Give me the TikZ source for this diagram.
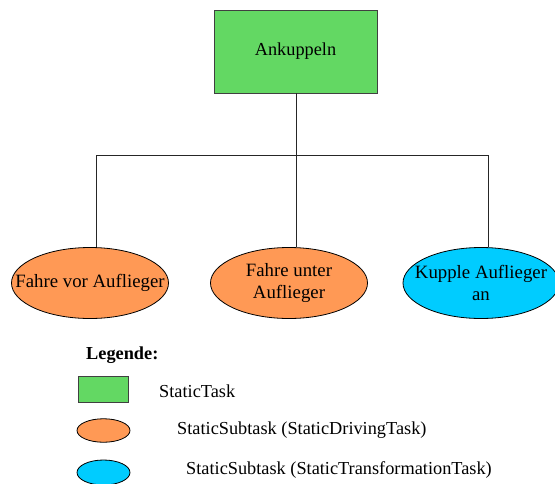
\documentclass[tikz,border=0pt]{standalone}
\usepackage{fontspec}
\setmainfont{Liberation Serif}
\usetikzlibrary{shapes.geometric}
\definecolor{taskgreen}{HTML}{63D863}
\definecolor{driveorange}{HTML}{FF9955}
\definecolor{transcyan}{HTML}{00CCFF}
\tikzset{
  txt/.style={font=\fontsize{18.3}{22}\selectfont},
  subtxt/.style={font=\fontsize{18.8}{22.5}\selectfont, align=center, inner sep=0pt},
  taskbox/.style={draw=black!75, fill=taskgreen, line width=0.9pt, inner sep=0pt},
  subshape/.style={ellipse, draw=black, line width=0.8pt, inner sep=0pt},
  drivesub/.style={subshape, fill=driveorange},
  transsub/.style={subshape, fill=transcyan},
  link/.style={draw=black!85, line width=0.8pt},
}
\begin{document}
\begin{tikzpicture}[x=1pt,y=-1pt]
  \useasboundingbox (0,0) rectangle (555,483);
  % task tree
  \node[taskbox, minimum width=163pt, minimum height=83pt, txt] (root) at (295.5,51.5) {Ankuppeln};
  \node[drivesub, minimum width=157pt, minimum height=71pt] (s1) at (90,283) {};
  \node[subtxt] (s1txt) at (s1.center) {Fahre vor Auflieger};
  \node[drivesub, minimum width=157pt, minimum height=71pt] (s2) at (289,283) {};
  \node[subtxt] (s2txt) at (s2.center) {Fahre unter\\Auflieger};
  \node[transsub, minimum width=156pt, minimum height=71pt] (s3) at (481,283) {};
  \node[subtxt] (s3txt) at (s3.center) {Kupple Auflieger\\an};
  \coordinate (bus) at (296,155);
  \coordinate (b1) at (96.5,155);
  \coordinate (b3) at (488.5,155);
  \path[link] (root.south -| bus) -- (bus);
  \path[link] (b1) -- (b3);
  \path[link] (b1) -- (b1 |- s1.north);
  \path[link] (bus) -- (bus |- s2.north);
  \path[link] (b3) -- (b3 |- s3.north);
  % legend
  \node[font=\fontsize{18.3}{22}\selectfont\bfseries, anchor=west, inner sep=0pt] (legtitle) at (86,355) {Legende:};
  \node[taskbox, minimum width=50pt, minimum height=25.5pt] (legtask) at (103.3,389.5) {};
  \node[txt, anchor=west, inner sep=0pt] (legtasktxt) at (159,391) {StaticTask};
  \node[drivesub, minimum width=53pt, minimum height=23.5pt] (legdrive) at (103.5,430.5) {};
  \node[txt, anchor=west, inner sep=0pt] (legdrivetxt) at (177,430) {StaticSubtask (StaticDrivingTask)};
  \node[transsub, minimum width=53pt, minimum height=25pt] (legtrans) at (103.5,472.5) {};
  \node[txt, anchor=west, inner sep=0pt] (legtranstxt) at (186,470) {StaticSubtask (StaticTransformationTask)};
\end{tikzpicture}
\end{document}
